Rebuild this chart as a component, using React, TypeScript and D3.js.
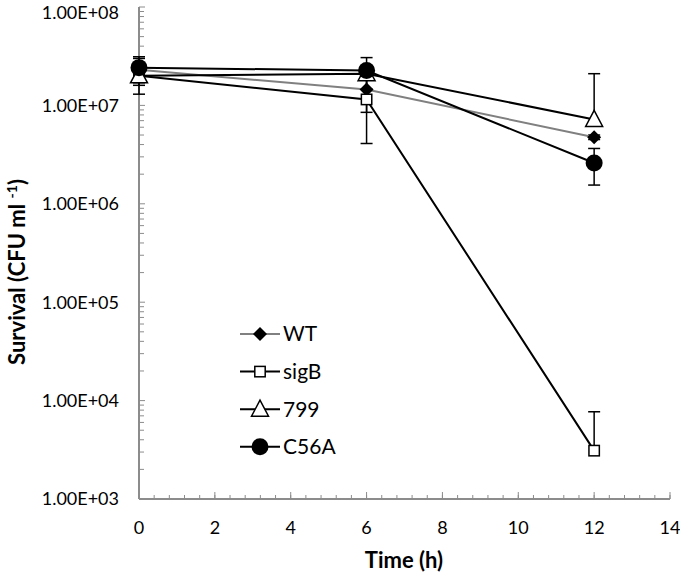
import React from "react";
import * as d3 from "d3";

const times = [0, 6, 12];
const seriesNames = ["WT", "sigB", "799", "C56A"];
const wtValues = [2.3e7, 1.45e7, 4.75e6];
const wtErrors = [0.7e7, 0.6e7, 0.25e6];
const sigBValues = [2.0e7, 1.15e7, 3.1e3];
const sigBErrors = [0.3e7, 0.74e7, 4.6e3];
const v799Values = [2.0e7, 2.1e7, 7.2e6];
const v799Errors = [0.7e7, 0.3e7, 1.38e7];
const c56aValues = [2.42e7, 2.26e7, 2.6e6];
const c56aErrors = [0.7e7, 0.8e7, 1.05e6];
const xTicks = [0, 2, 4, 6, 8, 10, 12, 14];
const yTicks = [1e3, 1e4, 1e5, 1e6, 1e7, 1e8];
const yTickLabels = ["1.00E+03", "1.00E+04", "1.00E+05", "1.00E+06", "1.00E+07", "1.00E+08"];

const FONT = "Lato, 'Open Sans', sans-serif";

type Marker = "diamond" | "square" | "triangle" | "circle";
const seriesList = [
  { name: seriesNames[0], values: wtValues, errors: wtErrors, marker: "diamond" as Marker, line: "#808080" },
  { name: seriesNames[1], values: sigBValues, errors: sigBErrors, marker: "square" as Marker, line: "#000" },
  { name: seriesNames[2], values: v799Values, errors: v799Errors, marker: "triangle" as Marker, line: "#000" },
  { name: seriesNames[3], values: c56aValues, errors: c56aErrors, marker: "circle" as Marker, line: "#000" },
];

function MarkerShape({ type, x, y }: { type: Marker; x: number; y: number }) {
  if (type === "diamond") {
    const s = 7;
    return <path d={`M${x},${y - s}L${x + s},${y}L${x},${y + s}L${x - s},${y}Z`} fill="#000" />;
  }
  if (type === "square") {
    const s = 5.2;
    return <rect x={x - s} y={y - s} width={2 * s} height={2 * s} fill="#fff" stroke="#000" strokeWidth={1.5} />;
  }
  if (type === "triangle") {
    return (
      <path d={`M${x},${y - 9}L${x + 8.5},${y + 7}L${x - 8.5},${y + 7}Z`} fill="#fff" stroke="#000" strokeWidth={1.5} />
    );
  }
  return <circle cx={x} cy={y} r={8.5} fill="#000" />;
}

export default function App() {
  const W = 680, H = 575;
  const x = d3.scaleLinear().domain([0, 14]).range([139, 670]);
  const y = d3.scaleLog().domain([1e3, 1e8]).range([499, 7]);
  const axisColor = "#8c8c8c";

  const xMinor = d3.range(0, 14.0001, 0.4);
  const yMinor: number[] = [];
  for (let e = 3; e < 8; e++) for (let m = 2; m <= 9; m++) yMinor.push(m * Math.pow(10, e));

  const lineGen = d3
    .line<number>()
    .x((_, i) => x(times[i]))
    .y((d) => y(d));

  const legendY0 = 334;
  const legendDy = 37.6;

  return (
    <svg width={W} height={H} style={{ position: "absolute", left: 0, top: 0, background: "#fff" }}>
      <rect width={W} height={H} fill="#fff" />
      {/* Y axis */}
      <line x1={x(0)} x2={x(0)} y1={y(1e8)} y2={y(1e3)} stroke={axisColor} strokeWidth={2} />
      {yMinor.map((v, i) => (
        <line key={"ym" + i} x1={x(0)} x2={x(0) + 5} y1={y(v)} y2={y(v)} stroke={axisColor} strokeWidth={1} />
      ))}
      {yTicks.map((v, i) => (
        <g key={"yt" + i}>
          <line x1={x(0)} x2={x(0) + 6} y1={y(v)} y2={y(v)} stroke={axisColor} strokeWidth={1} />
          <text x={119} y={Math.max(y(v), 13)} dy="0.35em" textAnchor="end" fontFamily={FONT} fontSize={18} fill="#000">
            {yTickLabels[i]}
          </text>
        </g>
      ))}
      {/* X axis */}
      <line x1={x(0)} x2={x(14)} y1={y(1e3)} y2={y(1e3)} stroke={axisColor} strokeWidth={2} />
      {xMinor.map((v, i) => (
        <line key={"xm" + i} x1={x(v)} x2={x(v)} y1={y(1e3)} y2={y(1e3) - 4} stroke={axisColor} strokeWidth={1} />
      ))}
      {xTicks.map((v, i) => (
        <g key={"xt" + i}>
          <line x1={x(v)} x2={x(v)} y1={y(1e3)} y2={y(1e3) - 7} stroke={axisColor} strokeWidth={1} />
          <text x={x(v)} y={528} dy="0.35em" textAnchor="middle" fontFamily={FONT} fontSize={18} fill="#000">
            {v}
          </text>
        </g>
      ))}
      {/* Axis titles */}
      <text x={404} y={560} dy="0.35em" textAnchor="middle" fontFamily={FONT} fontSize={22} fontWeight="bold">
        Time (h)
      </text>
      <text
        transform={`translate(25,272) rotate(-90)`}
        textAnchor="middle"
        fontFamily={FONT}
        fontSize={22}
        fontWeight="bold"
      >
        Survival (CFU ml <tspan fontSize={14} dy={-8}>-1</tspan>
        <tspan dy={8}>)</tspan>
      </text>

      {/* Series */}
      {seriesList.map((s) => (
        <g key={s.name}>
          {s.values.map((v, i) => {
            const cx = x(times[i]);
            const hi = v + s.errors[i];
            const lo = v - s.errors[i];
            return (
              <g key={"e" + i} stroke="#000" strokeWidth={1.5}>
                <line x1={cx} x2={cx} y1={y(v)} y2={y(hi)} />
                <line x1={cx - 6} x2={cx + 6} y1={y(hi)} y2={y(hi)} />
                {lo > 0 && (
                  <>
                    <line x1={cx} x2={cx} y1={y(v)} y2={y(lo)} />
                    <line x1={cx - 6} x2={cx + 6} y1={y(lo)} y2={y(lo)} />
                  </>
                )}
              </g>
            );
          })}
        </g>
      ))}
      {seriesList.map((s) => (
        <g key={"l" + s.name}>
          <path d={lineGen(s.values) || ""} fill="none" stroke={s.line} strokeWidth={2} />
          {s.values.map((v, i) => (
            <MarkerShape key={i} type={s.marker} x={x(times[i])} y={y(v)} />
          ))}
        </g>
      ))}

      {/* Legend */}
      {seriesList.map((s, i) => {
        const ly = legendY0 + i * legendDy;
        return (
          <g key={"lg" + s.name}>
            <line x1={240} x2={280} y1={ly} y2={ly} stroke={s.line} strokeWidth={2} />
            <MarkerShape type={s.marker} x={260} y={ly} />
            <text x={283} y={ly} dy="0.35em" fontFamily={FONT} fontSize={21} fill="#000">
              {s.name}
            </text>
          </g>
        );
      })}
    </svg>
  );
}
